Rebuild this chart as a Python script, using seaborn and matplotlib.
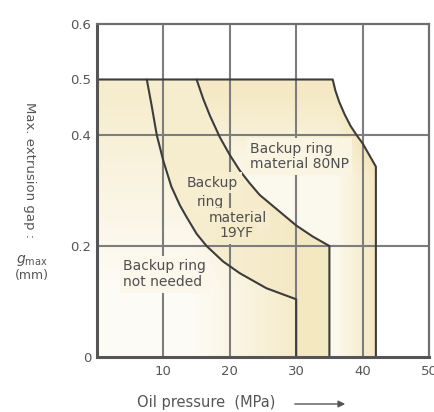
import numpy as np
import pandas as pd
import matplotlib
matplotlib.use("Agg")
import matplotlib.pyplot as plt
from matplotlib.patches import Polygon, FancyArrowPatch
import seaborn as sns

# ---- data ----
p_not_needed = [7.5, 8.2, 9.0, 10.0, 11.2, 12.5, 13.5, 15.0, 16.5, 19.0, 21.5, 25.5, 30.0, 30.0]
g_not_needed = [0.5, 0.455, 0.4, 0.353, 0.307, 0.273, 0.252, 0.222, 0.2, 0.172, 0.151, 0.124, 0.104, 0.0]

p_19yf = [15.0, 16.0, 17.0, 18.5, 20.0, 21.5, 23.0, 24.5, 26.5, 28.5, 30.0, 32.5, 35.0, 35.0]
g_19yf = [0.5, 0.465, 0.435, 0.396, 0.364, 0.336, 0.313, 0.292, 0.272, 0.252, 0.237, 0.217, 0.2, 0.0]

p_80np = [0.0, 35.5, 35.9, 36.5, 37.3, 38.2, 39.2, 40.0, 42.0, 42.0]
g_80np = [0.5, 0.5, 0.48, 0.459, 0.437, 0.416, 0.398, 0.385, 0.343, 0.0]

x_ticks = [10, 20, 30, 40, 50]
y_ticks = [0, 0.2, 0.4, 0.5, 0.6]
y_tick_labels = ["0", "0.2", "0.4", "0.5", "0.6"]
x_grid = [10, 20, 30, 40]
y_grid = [0.2, 0.4]

sns.set_style("white")
plt.rcParams["font.family"] = ["DejaVu Sans"]

W, H = 435, 412
fig = plt.figure(figsize=(W / 100, H / 100), dpi=100)
ax = fig.add_axes([97 / W, 1 - 357 / H, (429 - 97) / W, (357 - 24) / H])
ax.set_xlim(0, 50)
ax.set_ylim(0, 0.6)

# ---- gradient fills for the three regions ----
nx, ny = 400, 400
X, Y = np.meshgrid(np.linspace(0, 50, nx), np.linspace(0, 0.6, ny))
yellow = np.array([0.940, 0.872, 0.655])

def shade(a):
    a = np.clip(a, 0, 1)[..., None]
    return (1 - a) * np.ones(3) + a * yellow

a1 = 0.10 + 0.45 * np.clip((Y - 0.12) / 0.35, 0, 1) + 0.5 * np.clip((X - 14) / 16, 0, 1)
a2 = 0.55 + 0.15 * np.clip((X - 22) / 10, 0, 1)
a3 = 0.20 + 0.45 * np.clip((Y - 0.32) / 0.15, 0, 1) + 0.5 * np.clip((X - 36) / 6, 0, 1)

r1 = list(zip(p_not_needed, g_not_needed)) + [(0, 0), (0, 0.5)]
r2 = list(zip(p_19yf, g_19yf)) + list(zip(p_not_needed, g_not_needed))[::-1]
r3 = ([(p_19yf[0], 0.5)] + [(p, g) for p, g in zip(p_80np, g_80np) if p > p_19yf[0]]
      + list(zip(p_19yf, g_19yf))[::-1])

for poly_pts, a in [(r1, a1), (r2, a2), (r3, np.minimum(a3, 0.8))]:
    poly = Polygon(poly_pts, closed=True, transform=ax.transData, facecolor="none", edgecolor="none")
    ax.add_patch(poly)
    im = ax.imshow(shade(a), extent=[0, 50, 0, 0.6], origin="lower", aspect="auto",
                   interpolation="bilinear", zorder=0.5)
    im.set_clip_path(poly)

# ---- grid ----
grid_kw = dict(color="#7d7d7d", lw=1.5, zorder=1)
for gx in x_grid:
    ax.axvline(gx, **grid_kw)
for gy in y_grid:
    ax.axhline(gy, **grid_kw)

# ---- boundary curves ----
curves = pd.concat([
    pd.DataFrame({"p": p_not_needed, "g": g_not_needed, "c": "not needed"}),
    pd.DataFrame({"p": p_19yf, "g": g_19yf, "c": "19YF"}),
    pd.DataFrame({"p": p_80np, "g": g_80np, "c": "80NP"}),
])
for name, sub in curves.groupby("c", sort=False):
    sns.lineplot(data=sub, x="p", y="g", sort=False, estimator=None, ax=ax,
                 color="#3c3c3c", lw=1.5, zorder=3, legend=False)

ax.set_xlim(0, 50)
ax.set_ylim(0, 0.6)
ax.set_xlabel("")
ax.set_ylabel("")
ax.set_xticks(x_ticks)
ax.set_yticks(y_ticks)
ax.set_yticklabels(y_tick_labels)
ax.tick_params(axis="both", length=0, labelsize=9.5, labelcolor="#555555")
ax.tick_params(axis="x", pad=6)
ax.tick_params(axis="y", pad=4)

for side in ["left", "bottom"]:
    ax.spines[side].set_color("#555555")
    ax.spines[side].set_linewidth(2.2)
for side in ["top", "right"]:
    ax.spines[side].set_color("#6e6e6e")
    ax.spines[side].set_linewidth(1.6)
for s in ax.spines.values():
    s.set_zorder(4)

# ---- region labels ----
tk = dict(fontsize=10, color="#4f4f4f", zorder=5, va="center")
bb = lambda fc: dict(boxstyle="square,pad=0.25", fc=fc, ec="none")
ax.text(3.95, 0.149, "Backup ring\nnot needed", ha="left", linespacing=1.15,
        bbox=bb("#fbf7ea"), **tk)
ax.text(17.4, 0.314, "Backup", ha="center", bbox=bb("#f7eed2"), **tk)
ax.text(17.0, 0.279, "ring", ha="center", bbox=bb("#f7eed2"), **tk)
ax.text(21.2, 0.250, "material", ha="center", bbox=bb("#f6ecce"), **tk)
ax.text(21.05, 0.223, "19YF", ha="center", bbox=bb("#f5eaca"), **tk)
ax.text(23.0, 0.361, "Backup ring\nmaterial 80NP", ha="left", linespacing=1.15,
        bbox=bb("#faf4e2"), **tk)

# ---- axis titles ----
fig.text(29 / W, 1 - 170 / H, "Max. extrusion gap :", rotation=270, ha="center", va="center",
         fontsize=9.5, color="#555555")
fig.text(31.5 / W, 1 - 261 / H, r"$g_{\rm max}$", ha="center", va="center",
         fontsize=10, color="#555555")
fig.text(31.5 / W, 1 - 276 / H, "(mm)", ha="center", va="center", fontsize=9, color="#555555")
fig.text(137 / W, 1 - 403 / H, "Oil pressure  (MPa)", ha="left", va="center",
         fontsize=10.5, color="#555555")
fig.add_artist(FancyArrowPatch(
    (292 / W, 1 - 404 / H), (348 / W, 1 - 404 / H), transform=fig.transFigure,
    arrowstyle="-|>,head_length=4,head_width=2", color="#555555", lw=1.0))

fig.savefig("out.png", dpi=100, facecolor="white")
